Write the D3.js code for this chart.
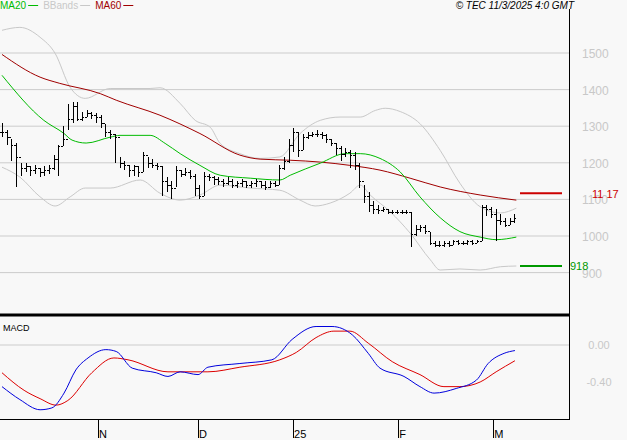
<!DOCTYPE html><html><head><meta charset="utf-8">
<script src="https://cdn.jsdelivr.net/npm/d3@7"></script>
<style>body{margin:0;background:#f8f8f8}svg{display:block;font-family:Arial,"Liberation Sans",sans-serif}</style></head><body>
<script>
const closes=[1285,1270,1250,1215,1185,1190,1180,1185,1175,1180,1185,1210,1245,1265,1320,1355,1320,1325,1335,1330,1325,1310,1285,1280,1270,1200,1195,1180,1190,1175,1220,1200,1195,1190,1150,1140,1130,1180,1170,1175,1165,1130,1110,1165,1160,1155,1150,1145,1150,1140,1145,1150,1140,1145,1150,1140,1135,1145,1140,1185,1205,1250,1285,1235,1270,1275,1280,1280,1275,1265,1255,1240,1225,1230,1220,1195,1150,1110,1085,1075,1070,1075,1065,1065,1065,1065,1065,1005,1020,1025,1015,980,975,975,980,975,985,980,980,985,980,985,1080,1075,1060,1045,1040,1030,1040,1050];
const highs=[1310,1290,1265,1255,1200,1200,1190,1195,1185,1190,1195,1220,1250,1300,1360,1365,1365,1340,1345,1340,1335,1330,1305,1290,1280,1215,1205,1195,1195,1190,1230,1215,1210,1200,1190,1160,1150,1190,1180,1185,1180,1170,1140,1175,1170,1165,1160,1155,1160,1155,1150,1155,1150,1150,1155,1150,1150,1150,1150,1195,1215,1265,1295,1285,1280,1285,1285,1290,1285,1280,1265,1255,1245,1240,1235,1230,1200,1140,1120,1095,1085,1080,1075,1070,1070,1070,1070,1065,1030,1030,1030,1010,985,985,985,985,990,990,985,990,990,990,1085,1085,1080,1075,1060,1050,1050,1060];
const lows=[1270,1250,1205,1135,1165,1175,1165,1170,1160,1165,1170,1180,1165,1245,1290,1310,1315,1315,1325,1320,1310,1295,1270,1265,1200,1185,1180,1160,1165,1160,1175,1185,1185,1180,1110,1120,1100,1135,1160,1165,1155,1110,1100,1110,1150,1140,1140,1135,1140,1130,1130,1135,1130,1130,1135,1130,1125,1130,1135,1140,1180,1200,1230,1215,1235,1265,1270,1270,1265,1255,1245,1220,1205,1215,1185,1180,1130,1090,1065,1060,1060,1065,1060,1060,1060,1060,1060,970,1000,1010,1005,975,970,970,970,970,975,975,975,975,975,980,985,1055,1050,985,1030,1025,1030,1035];
const ma20=[[0,1439],[8.9,1316],[13.2,1280],[14.9,1262],[17.9,1254],[23,1270],[25.1,1275],[31.5,1275],[34.7,1253],[37.9,1225],[42.1,1193],[46.4,1166],[52.8,1158],[59.1,1153],[61.3,1166],[67.7,1199],[73,1225],[76.2,1225],[80.4,1212],[84.7,1175],[88.9,1107],[93.2,1050],[97.4,1012],[101.7,997],[105.1,990],[109.4,997]];
const ma60=[[0,1496],[8.1,1434],[12.3,1417],[20.9,1389],[24.3,1371],[33.6,1330],[42.1,1280],[50.6,1221],[54.9,1210],[61.3,1207],[67.7,1202],[74,1193],[80.4,1180],[86.8,1158],[93.2,1134],[101.7,1112],[109.4,1098]];
const bbUpper=[[0,1562],[3.8,1570],[8.1,1543],[11.3,1499],[14.5,1406],[17.7,1376],[23,1403],[31.5,1403],[33.6,1405],[37.9,1362],[41.1,1316],[44.3,1297],[46.4,1253],[50.6,1225],[54.9,1212],[59.1,1216],[63.4,1280],[67.7,1316],[71.9,1325],[76.2,1325],[79.4,1343],[81.5,1349],[84.7,1340],[88.9,1307],[93.2,1234],[97.4,1144],[101.7,1080],[106,1063],[109.4,1076]];
const bbLower=[[0,1188],[3.8,1161],[8.1,1107],[11.3,1082],[14.5,1107],[17.7,1131],[23,1131],[29.4,1153],[33.6,1117],[37.9,1098],[42.1,1112],[46.4,1139],[52.8,1131],[59.1,1125],[63.4,1098],[66.6,1082],[69.8,1090],[74,1117],[76.2,1139],[78.3,1112],[82.6,1066],[86.8,1008],[91.1,935],[93.2,907],[97.4,910],[101.7,907],[106,916],[109.4,918]];
const macd=[[0,-0.45],[3.8,-0.59],[8.1,-0.70],[10.6,-0.68],[13.2,-0.52],[15.7,-0.27],[18.3,-0.14],[22.1,-0.05],[24.3,-0.07],[27.7,-0.25],[32.8,-0.30],[35.3,-0.34],[37.9,-0.29],[41.7,-0.32],[43.8,-0.24],[50.6,-0.20],[57.4,-0.16],[61.7,0.06],[66.8,0.20],[70.2,0.20],[74.5,0.11],[77.9,-0.09],[80.4,-0.25],[85.5,-0.34],[88.9,-0.45],[91.9,-0.52],[96.6,-0.47],[100.9,-0.38],[103.4,-0.20],[106.8,-0.09],[109.1,-0.06]];
const signal=[[0,-0.30],[4.7,-0.49],[8.1,-0.58],[11.5,-0.65],[14,-0.60],[19.1,-0.30],[23.8,-0.14],[26.8,-0.16],[35.3,-0.29],[43.8,-0.29],[50.6,-0.24],[59.1,-0.16],[62.6,-0.08],[66.8,0.08],[70.6,0.15],[74,0.15],[77.9,0.02],[83,-0.18],[88.9,-0.32],[94,-0.45],[97.4,-0.45],[101.7,-0.40],[105.1,-0.29],[109.1,-0.17]];
const priceTicks=[900,1000,1100,1200,1300,1400,1500];
const macdTicks=[0,-0.4];
const macdTickLabels=["0.00","-0.40"];
const monthTicks=[20.4,41.7,61.9,84.3,104.5];
const monthLabels=["N","D","25","F","M"];
const ma60Last=1117, bbLowLast=918;

const W=627,H=440,R=569;
const svg=d3.select("body").append("svg").attr("width",W).attr("height",H);
svg.append("rect").attr("width",W).attr("height",H).attr("fill","#f8f8f8");
const x=d3.scaleLinear().domain([0,120.6]).range([2,R]);
const y=d3.scaleLinear().domain([1000,1500]).range([236,53]);
const ym=d3.scaleLinear().domain([0,-0.4]).range([345,382]);
svg.selectAll(".g").data(priceTicks).join("line").attr("x1",0).attr("x2",R).attr("y1",d=>y(d)).attr("y2",d=>y(d)).attr("stroke","#cccccc");
svg.selectAll(".pl").data(priceTicks).join("text").attr("x",582).attr("y",d=>y(d)+5).text(d=>d).attr("fill","#c8c8c8").attr("font-size",12);
svg.append("line").attr("x1",0).attr("x2",R).attr("y1",ym(0)).attr("y2",ym(0)).attr("stroke","#cccccc");
svg.selectAll(".ml").data(macdTicks).join("text").attr("x",599).attr("y",d=>ym(d)+4).attr("text-anchor","middle").text((d,i)=>macdTickLabels[i]).attr("fill","#c8c8c8").attr("font-size",11);
const line=d3.line().x(d=>x(d[0])).y(d=>y(d[1])).curve(d3.curveMonotoneX);
const lineM=d3.line().x(d=>x(d[0])).y(d=>ym(d[1])).curve(d3.curveMonotoneX);
svg.append("path").attr("d",line(bbUpper)).attr("fill","none").attr("stroke","#c8c8c8");
svg.append("path").attr("d",line(bbLower)).attr("fill","none").attr("stroke","#c8c8c8");
svg.append("path").attr("d",line(ma60)).attr("fill","none").attr("stroke","#a00000");
svg.append("path").attr("d",line(ma20)).attr("fill","none").attr("stroke","#00bb00");
const g=svg.append("g").attr("stroke","#000").attr("shape-rendering","crispEdges");
closes.forEach((c,i)=>{
  const xi=Math.round(x(i));
  g.append("line").attr("x1",xi).attr("x2",xi).attr("y1",y(highs[i])).attr("y2",y(lows[i]));
  g.append("line").attr("x1",xi).attr("x2",xi+2).attr("y1",Math.round(y(c))).attr("y2",Math.round(y(c)));
  const o=i>0?closes[i-1]:c;
  g.append("line").attr("x1",xi-2).attr("x2",xi).attr("y1",Math.round(y(o))).attr("y2",Math.round(y(o)));
});
svg.append("line").attr("x1",520).attr("x2",562).attr("y1",y(ma60Last)).attr("y2",y(ma60Last)).attr("stroke","#cc0000").attr("stroke-width",2);
svg.append("text").attr("x",592).attr("y",y(ma60Last)+5).text("11 17").attr("fill","#cc0000").attr("font-size",11);
svg.append("line").attr("x1",520).attr("x2",562).attr("y1",y(bbLowLast)).attr("y2",y(bbLowLast)).attr("stroke","#009900").attr("stroke-width",2);
svg.append("text").attr("x",570).attr("y",y(bbLowLast)+4).text("918").attr("fill","#009900").attr("font-size",11);
svg.append("path").attr("d",lineM(signal)).attr("fill","none").attr("stroke","#dd0000");
svg.append("path").attr("d",lineM(macd)).attr("fill","none").attr("stroke","#0000dd");
svg.append("text").attr("x",3).attr("y",331).text("MACD").attr("font-size",9);
svg.append("line").attr("x1",R+.5).attr("x2",R+.5).attr("y1",9).attr("y2",420).attr("stroke","#000");
svg.append("line").attr("x1",0).attr("x2",R+1).attr("y1",315).attr("y2",315).attr("stroke","#000").attr("stroke-width",3);
svg.append("line").attr("x1",0).attr("x2",R+1).attr("y1",419.5).attr("y2",419.5).attr("stroke","#000");
svg.selectAll(".mt").data(monthTicks).join("line").attr("x1",d=>Math.round(x(d))+.5).attr("x2",d=>Math.round(x(d))+.5).attr("y1",420).attr("y2",438).attr("stroke","#000");
svg.selectAll(".mtl").data(monthTicks).join("text").attr("x",d=>x(d)+1).attr("y",438).text((d,i)=>monthLabels[i]).attr("font-size",11);
const leg=[["MA20","#00bb00"],["BBands","#c8c8c8"],["MA60","#a00000"]];
let lx=0;
leg.forEach(([t,c])=>{const tx=svg.append("text").attr("x",lx).attr("y",9).text(t).attr("fill",c).attr("font-size",10);
 const w=tx.node().getComputedTextLength();svg.append("line").attr("x1",lx+w+2).attr("x2",lx+w+12).attr("y1",5.5).attr("y2",5.5).attr("stroke",c);lx+=w+17;});
svg.append("text").attr("x",574).attr("y",9).attr("text-anchor","end").attr("font-style","italic").attr("font-size",10).text("© TEC 11/3/2025 4:0 GMT");
</script></body></html>
